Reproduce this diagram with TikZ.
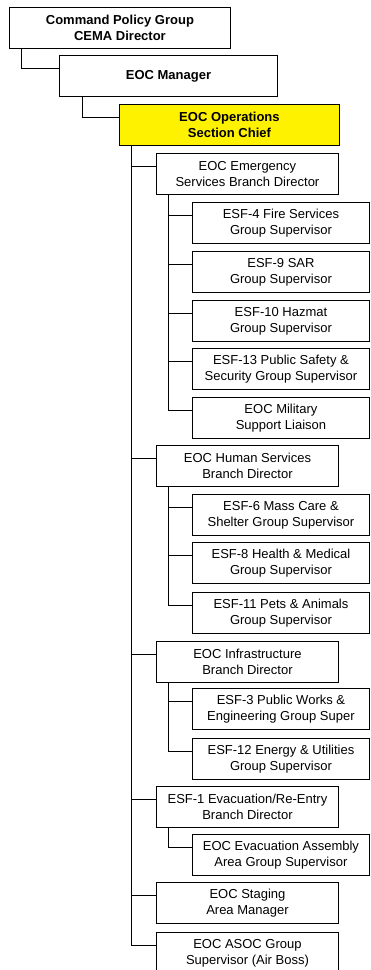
\documentclass[tikz,border=0pt]{standalone}
\usepackage{fontspec}
\setmainfont{Liberation Sans}

\begin{document}
\begin{tikzpicture}[x=1pt,y=-1pt,
  box/.style={draw,line width=0.9pt,anchor=north west,minimum height=41pt,
    align=center,inner sep=0pt,font=\fontsize{13}{16}\selectfont},
  chief/.style={box,font=\bfseries\fontsize{13}{16}\selectfont},
  branch/.style={box,minimum width=182pt},
  group/.style={box,minimum width=177pt},
  link/.style={line width=0.9pt}]
\clip (0,0) rectangle (370,970);

% top of the chain
\node[chief,minimum width=221pt] (cpg) at (9,7) {Command Policy Group\\CEMA Director};
\node[chief,minimum width=218pt] (mgr) at (59,55) {EOC Manager};
\node[chief,minimum width=220pt,fill=yellow] (ops) at (119,104) {EOC Operations\\Section Chief};
\draw[link] (cpg.south west) ++(12,0) |- ([yshift=8pt]mgr.west);
\draw[link] (mgr.south west) ++(23,0) |- ([yshift=8pt]ops.west);

% branches
\node[branch] (esb) at (156,153) {EOC Emergency\\Services Branch Director};
\node[branch] (hsb) at (156,445) {EOC Human Services\\Branch Director};
\node[branch] (inf) at (156,641) {EOC Infrastructure\\Branch Director};
\node[branch] (evac) at (156,786) {ESF-1 Evacuation/Re-Entry\\Branch Director};
\node[branch] (stage) at (156,882) {EOC Staging\\Area Manager};
\node[branch] (asoc) at (156,932) {EOC ASOC Group\\Supervisor (Air Boss)};
\draw[link] (ops.south west) ++(12,0) |- ([yshift=8pt]asoc.west);
\foreach \n in {esb,hsb,inf,evac,stage}
  \draw[link] ([yshift=8pt]\n.west) -- ++(-25,0);

% groups
\node[group] (esf4) at (192,202) {ESF-4 Fire Services\\Group Supervisor};
\node[group] (esf9) at (192,251) {ESF-9 SAR\\Group Supervisor};
\node[group] (esf10) at (192,300) {ESF-10 Hazmat\\Group Supervisor};
\node[group] (esf13) at (192,348) {ESF-13 Public Safety \&\\Security Group Supervisor};
\node[group] (mil) at (192,397) {EOC Military\\Support Liaison};
\draw[link] (esb.south west) ++(12,0) |- ([yshift=8pt]mil.west);
\foreach \n in {esf4,esf9,esf10,esf13}
  \draw[link] ([yshift=8pt]\n.west) -- ++(-24,0);

\node[group] (esf6) at (192,494) {ESF-6 Mass Care \&\\Shelter Group Supervisor};
\node[group] (esf8) at (192,542) {ESF-8 Health \& Medical\\Group Supervisor};
\node[group] (esf11) at (192,592) {ESF-11 Pets \& Animals\\Group Supervisor};
\draw[link] (hsb.south west) ++(12,0) |- ([yshift=8pt]esf11.west);
\foreach \n in {esf6,esf8}
  \draw[link] ([yshift=8pt]\n.west) -- ++(-24,0);

\node[group] (esf3) at (192,688) {ESF-3 Public Works \&\\Engineering Group Super};
\node[group] (esf12) at (192,738) {ESF-12 Energy \& Utilities\\Group Supervisor};
\draw[link] (inf.south west) ++(12,0) |- ([yshift=8pt]esf12.west);
\draw[link] ([yshift=8pt]esf3.west) -- ++(-24,0);

\node[group] (assy) at (192,834) {EOC Evacuation Assembly\\Area Group Supervisor};
\draw[link] (evac.south west) ++(12,0) |- ([yshift=8pt]assy.west);
\end{tikzpicture}
\end{document}
